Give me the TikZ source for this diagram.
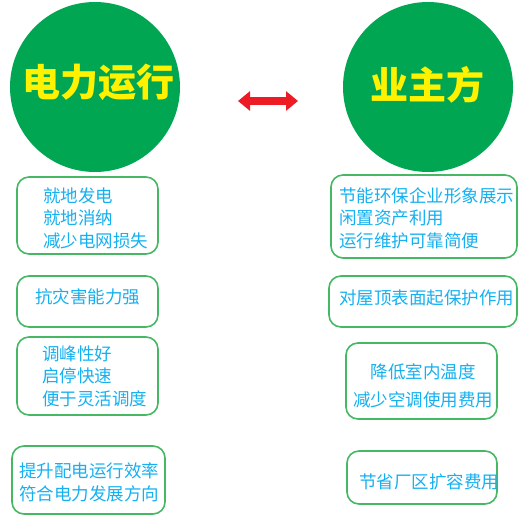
\documentclass[tikz,border=0pt]{standalone}
\usepackage{fontspec}
\newfontfamily\cjk{Noto Sans CJK SC}
\usetikzlibrary{arrows.meta}
\definecolor{cgreen}{RGB}{0,166,81}
\definecolor{bgreen}{RGB}{70,184,100}
\definecolor{tblue}{RGB}{20,176,240}
\definecolor{tyellow}{RGB}{255,242,0}
\definecolor{ared}{RGB}{237,28,36}
\tikzset{
  bigcirc/.style={circle, fill=cgreen, draw=none, minimum size=170pt, inner sep=0pt},
  title/.style={font=\cjk\bfseries\fontsize{38}{40}\selectfont, text=tyellow, inner sep=0pt},
  box/.style={draw=bgreen, line width=1.6pt, rounded corners=12pt, inner sep=0pt},
  txt/.style={font=\cjk\fontsize{17.5}{22.5}\selectfont, text=tblue, inner sep=0pt, align=left, anchor=west},
}
\begin{document}
\begin{tikzpicture}[x=1pt,y=-1pt]
\useasboundingbox (0,0) rectangle (523,530);
\node[bigcirc] (c1) at (95,87) {};
\node[bigcirc] (c2) at (428,87) {};
\node[title] (t1) at (99,82) {电力运行};
\node[title] (t2) at (427.5,85) {业主方};
\coordinate (al) at (238,101);
\coordinate (ar) at (298,101);
\draw[ared, line width=8pt, {Triangle[width=19pt,length=12pt]}-{Triangle[width=19pt,length=12pt]}] (al) -- (ar);
% left boxes
\node[box, minimum width=141pt, minimum height=77pt] (l1) at (87.5,215.5) {};
\node[txt] (lt1) at (43,218) {就地发电\\就地消纳\\减少电网损失};
\node[box, minimum width=141pt, minimum height=51pt] (l2) at (87.5,301.5) {};
\node[txt] (lt2) at (35,297) {抗灾害能力强};
\node[box, minimum width=141pt, minimum height=78pt] (l3) at (87.5,376) {};
\node[txt] (lt3) at (42,376) {调峰性好\\启停快速\\便于灵活调度};
\node[box, minimum width=153pt, minimum height=68pt] (l4) at (88.5,480) {};
\node[txt] (lt4) at (19,482.5) {提升配电运行效率\\符合电力发展方向};
% right boxes
\node[box, minimum width=186pt, minimum height=83pt] (r1) at (424,216.5) {};
\node[txt] (rt1) at (339,218) {节能环保企业形象展示\\闲置资产利用\\运行维护可靠简便};
\node[box, minimum width=188pt, minimum height=51pt] (r2) at (423,301.5) {};
\node[txt] (rt2) at (339,298) {对屋顶表面起保护作用};
\node[box, minimum width=151pt, minimum height=76pt] (r3) at (421.5,381) {};
\node[txt, align=center, anchor=center, font=\cjk\fontsize{17.5}{28}\selectfont] (rt3) at (423,386) {降低室内温度\\减少空调使用费用};
\node[box, minimum width=150pt, minimum height=53pt] (r4) at (422,477.5) {};
\node[txt] (rt4) at (359,482) {节省厂区扩容费用};
\end{tikzpicture}
\end{document}
